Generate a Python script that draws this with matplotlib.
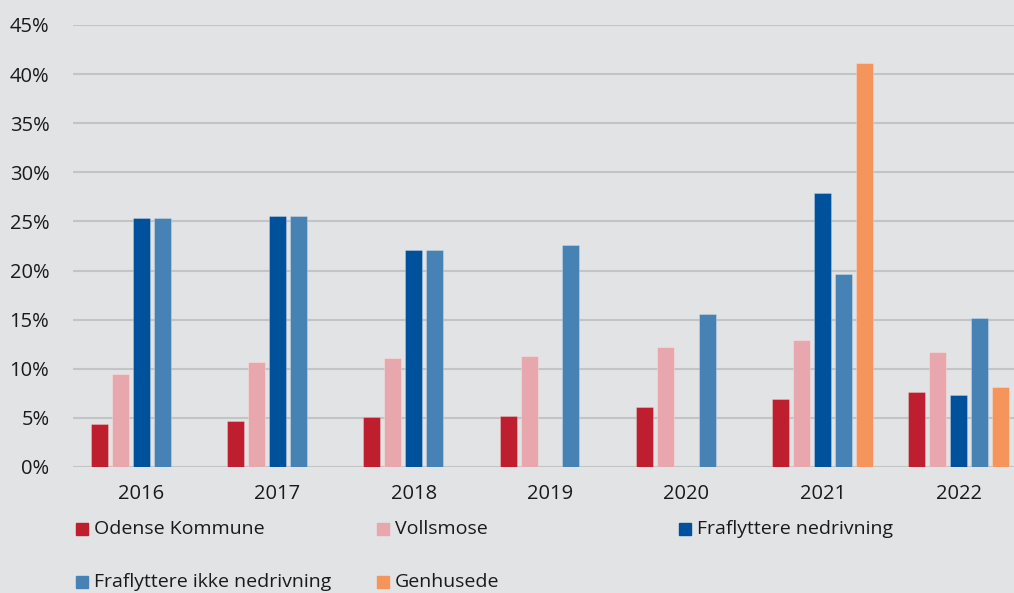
import numpy as np
import matplotlib
matplotlib.use('Agg')
from matplotlib import pyplot as plt
from matplotlib.patches import Rectangle

plt.rcParams['font.family'] = ['Open Sans', 'DejaVu Sans']

years = ['2016', '2017', '2018', '2019', '2020', '2021', '2022']
odense = [4.4, 4.7, 5.1, 5.2, 6.1, 6.9, 7.6]
vollsmose = [9.5, 10.7, 11.1, 11.3, 12.2, 12.9, 11.7]
fraflyt_ned = [25.3, 25.6, 22.1, np.nan, np.nan, 27.9, 7.3]
fraflyt_ikke = [25.3, 25.6, 22.1, 22.6, 15.6, 19.6, 15.2]
genhusede = [np.nan, np.nan, np.nan, np.nan, np.nan, 41.1, 8.1]

navne = ['Odense Kommune', 'Vollsmose', 'Fraflyttere nedrivning',
         'Fraflyttere ikke nedrivning', 'Genhusede']
serier = [odense, vollsmose, fraflyt_ned, fraflyt_ikke, genhusede]
farver = ['#BE1E2D', '#E8A7AD', '#00519B', '#4682B4', '#F5955C']

bg = '#E2E3E5'
fig = plt.figure(figsize=(10.14, 5.93), dpi=100, facecolor=bg)
ax = fig.add_axes([73/1014, 126/593, 954/1014, 442/593])
ax.set_facecolor(bg)

x = np.arange(len(years))
trin = 21/136.3
bredde = 17/136.3
for i, (vals, farve) in enumerate(zip(serier, farver)):
    ax.bar(x + (i - 2) * trin, vals, width=bredde, color=farve,
           edgecolor=(1, 1, 1, 0.3), linewidth=0.6, zorder=3)

ax.set_xlim(-0.5, len(years) - 0.5)
ax.set_ylim(0, 45)
ax.set_yticks(range(0, 50, 5))
ax.set_yticklabels([f'{v}%' for v in range(0, 50, 5)])
ax.set_xticks(x)
ax.set_xticklabels(years)
ax.grid(axis='y', color='#C3C4C6', linewidth=1.5, zorder=0)
ax.set_axisbelow(True)
for s in ax.spines.values():
    s.set_visible(False)
ax.tick_params(axis='both', length=0, labelsize=14.5, colors='#1a1a1a')
ax.tick_params(axis='y', pad=17)
ax.tick_params(axis='x', pad=12)

# legend, placed like the original (equal column starts)
kol = [76, 377, 679]
rader = [529, 582]
for i, (navn, farve) in enumerate(zip(navne, farver)):
    px = kol[i % 3]
    py = rader[i // 3]
    fig.patches.append(Rectangle((px/1014, (593 - py - 6)/593), 12/1014, 12/593,
                                 transform=fig.transFigure, color=farve))
    fig.text((px + 18)/1014, (593 - py)/593, navn, fontsize=14,
             va='center', ha='left', color='#1a1a1a')

fig.savefig('out.png', dpi=100, facecolor=bg)
